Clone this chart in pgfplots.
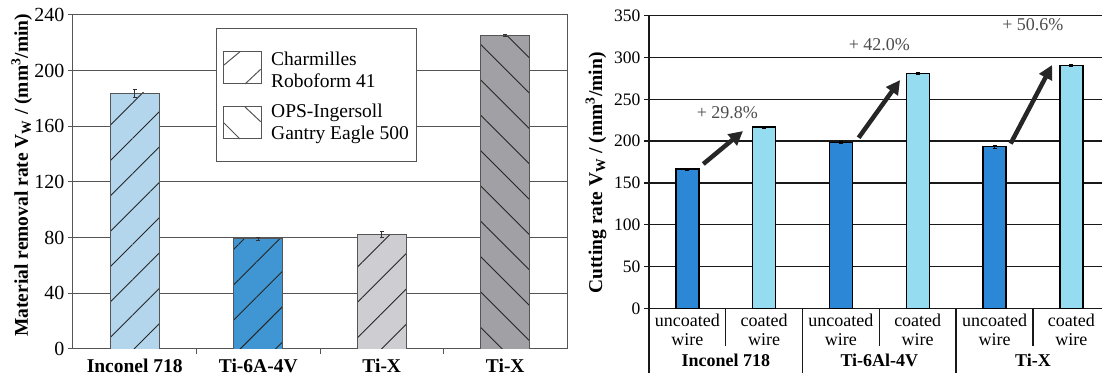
\documentclass[border=0pt]{standalone}
\usepackage{fontspec}
\setmainfont{Liberation Serif}
\usepackage{pgfplots}
\pgfplotsset{compat=1.18}
\usetikzlibrary{patterns.meta,arrows.meta}
\definecolor{incL}{HTML}{B4D6ED}
\definecolor{tiB}{HTML}{4096D2}
\definecolor{txL}{HTML}{CDCDD2}
\definecolor{txD}{HTML}{A0A0A5}
\definecolor{unc}{HTML}{2D87D7}
\definecolor{coa}{HTML}{96DCF0}
\definecolor{fr}{HTML}{555555}
\begin{document}
\begin{tikzpicture}
\path[use as bounding box] (0pt,0pt) rectangle (1102pt,377pt);
% ---------------- left chart
\begin{axis}[
  at={(73pt,28pt)}, anchor=south west, scale only axis,
  width=494pt, height=334pt,
  xmin=-0.5, xmax=3.5, ymin=0, ymax=240,
  ytick={0,40,...,240},
  xtick={0,1,2,3},
  xticklabels={Inconel 718, Ti-6A-4V, Ti-X, Ti-X},
  minor xtick={0.5,1.5,2.5},
  major x tick style=transparent,
  x tick label style={font=\fontsize{19.5}{20}\selectfont\bfseries, yshift=-1pt},
  y tick label style={font=\fontsize{20}{20}\selectfont},
  /pgf/number format/assume math mode=true,
  ymajorgrids, grid style={line width=1pt, fr},
  axis line style={line width=1pt, fr},
  tick style={line width=1pt, fr},
  major tick length=5pt, minor tick length=5pt,
  tick align=outside, xtick pos=bottom, ytick pos=left,
  ybar, bar width=49pt, bar shift=0pt,
  ylabel={Material removal rate V\textsubscript{W} / (mm\textsuperscript{3}/min)},
  ylabel style={at={(axis description cs:-0.104,0.52)}, anchor=center, font=\fontsize{19.5}{20}\selectfont\bfseries},
  error bars/y dir=both, error bars/y explicit,
  error bars/error bar style={line width=0.8pt, black!80},
]
\addplot[fill=incL, draw=fr, line width=0.8pt, postaction={pattern={Lines[angle=45,distance=25pt,line width=0.9pt]}, pattern color=black!85}] coordinates {(0,184) +- (0,3)};
\addplot[fill=tiB, draw=fr, line width=0.8pt, postaction={pattern={Lines[angle=45,distance=25pt,line width=0.9pt]}, pattern color=black!85}] coordinates {(1,79.5) +- (0,1)};
\addplot[fill=txL, draw=fr, line width=0.8pt, postaction={pattern={Lines[angle=45,distance=25pt,line width=0.9pt]}, pattern color=black!85}] coordinates {(2,82.4) +- (0,2.2)};
\addplot[fill=txD, draw=fr, line width=0.8pt, postaction={pattern={Lines[angle=-45,distance=25pt,line width=0.9pt]}, pattern color=black!85}] coordinates {(3,225.5) +- (0,1)};
\end{axis}
% legend of left chart
\draw[fr, line width=1pt, fill=white] (216pt,215pt) rectangle (416pt,348pt);
\draw[fr, line width=1pt] (223pt,293pt) rectangle (261pt,325.3pt);
\draw[fr, line width=1pt] (224pt,312pt) -- (240pt,325.3pt) (245pt,293pt) -- (260.7pt,307.7pt);
\draw[fr, line width=1pt] (223pt,238pt) rectangle (261pt,270.3pt);
\draw[fr, line width=1pt] (245pt,270pt) -- (260.7pt,255.3pt) (224pt,254pt) -- (240pt,238pt);
\node[anchor=west, align=left, font=\fontsize{19.5}{22}\selectfont, inner sep=0pt] at (271pt,307pt) {Charmilles\\Roboform 41};
\node[anchor=west, align=left, font=\fontsize{19.5}{22}\selectfont, inner sep=0pt] at (271pt,253pt) {OPS-Ingersoll\\Gantry Eagle 500};
% ---------------- right chart
\begin{axis}[
  at={(649pt,68.7pt)}, anchor=south west, scale only axis,
  width=453pt, height=292.6pt,
  xmin=-0.5, xmax=5.4, ymin=0, ymax=350,
  ytick={0,50,...,350},
  axis y line*=left,
  xtick={0,...,5},
  xticklabels={uncoated\\wire, coated\\wire, uncoated\\wire, coated\\wire, uncoated\\wire, coated\\wire},
  major x tick style=transparent,
  x tick label style={font=\fontsize{18}{19}\selectfont, align=center, yshift=3pt},
  y tick label style={font=\fontsize{17.5}{18}\selectfont},
  /pgf/number format/assume math mode=true,
  ymajorgrids, grid style={line width=1.4pt, black!90},
  axis line style={line width=1.4pt, black!90},
  tick style={line width=1.4pt, black!90},
  major tick length=5pt,
  tick align=outside, xtick pos=bottom, ytick pos=left,
  clip=false,
  ybar, bar width=23pt, bar shift=0pt,
  ylabel={Cutting rate V\textsubscript{W} / (mm\textsuperscript{3}/min)},
  ylabel style={at={(axis description cs:-0.117,0.462)}, anchor=center, font=\fontsize{19.5}{20}\selectfont\bfseries},
  error bars/y dir=both, error bars/y explicit,
  error bars/error bar style={line width=1pt, black},
]
\addplot[fill=unc, draw=black, line width=1.4pt] coordinates {(0,166.6) +- (0,1) (2,198.5) +- (0,1) (4,193.3) +- (0,1.5)};
\addplot[fill=coa, draw=black, line width=1.4pt] coordinates {(1,216.8) +- (0,1) (3,281) +- (0,1.5) (5,290.6) +- (0,1.5)};
% dividers of the category axis
\draw[line width=1.4pt, black!90] (axis cs:0.5,0) -- ++(0pt,-38pt) (axis cs:2.5,0) -- ++(0pt,-38pt) (axis cs:4.5,0) -- ++(0pt,-38pt);
\draw[line width=1.4pt, black!90] (axis cs:-0.5,0) -- ++(0pt,-65pt) (axis cs:1.5,0) -- ++(0pt,-65pt) (axis cs:3.5,0) -- ++(0pt,-65pt);
\node[font=\fontsize{18}{19}\selectfont\bfseries] at ([yshift=-52pt]axis cs:0.5,0) {Inconel 718};
\node[font=\fontsize{18}{19}\selectfont\bfseries] at ([yshift=-52pt]axis cs:2.5,0) {Ti-6Al-4V};
\node[font=\fontsize{18}{19}\selectfont\bfseries] at ([yshift=-52pt]axis cs:4.5,0) {Ti-X};
% arrows and gains
\draw[-{Triangle[length=14pt,width=14pt]}, line width=4.5pt, black!85] (axis cs:0.207,172.6) -- (axis cs:0.724,212);
\draw[-{Triangle[length=14pt,width=14pt]}, line width=4.5pt, black!85] (axis cs:2.23,204) -- (axis cs:2.77,273);
\draw[-{Triangle[length=14pt,width=14pt]}, line width=4.5pt, black!85] (axis cs:4.21,197) -- (axis cs:4.75,291);
\node[font=\fontsize{18}{19}\selectfont, text=black!70] at (axis cs:0.52,234) {+ 29.8\%};
\node[font=\fontsize{18}{19}\selectfont, text=black!70] at (axis cs:2.5,315) {+ 42.0\%};
\node[font=\fontsize{18}{19}\selectfont, text=black!70] at (axis cs:4.5,339) {+ 50.6\%};
\end{axis}
\end{tikzpicture}
\end{document}
